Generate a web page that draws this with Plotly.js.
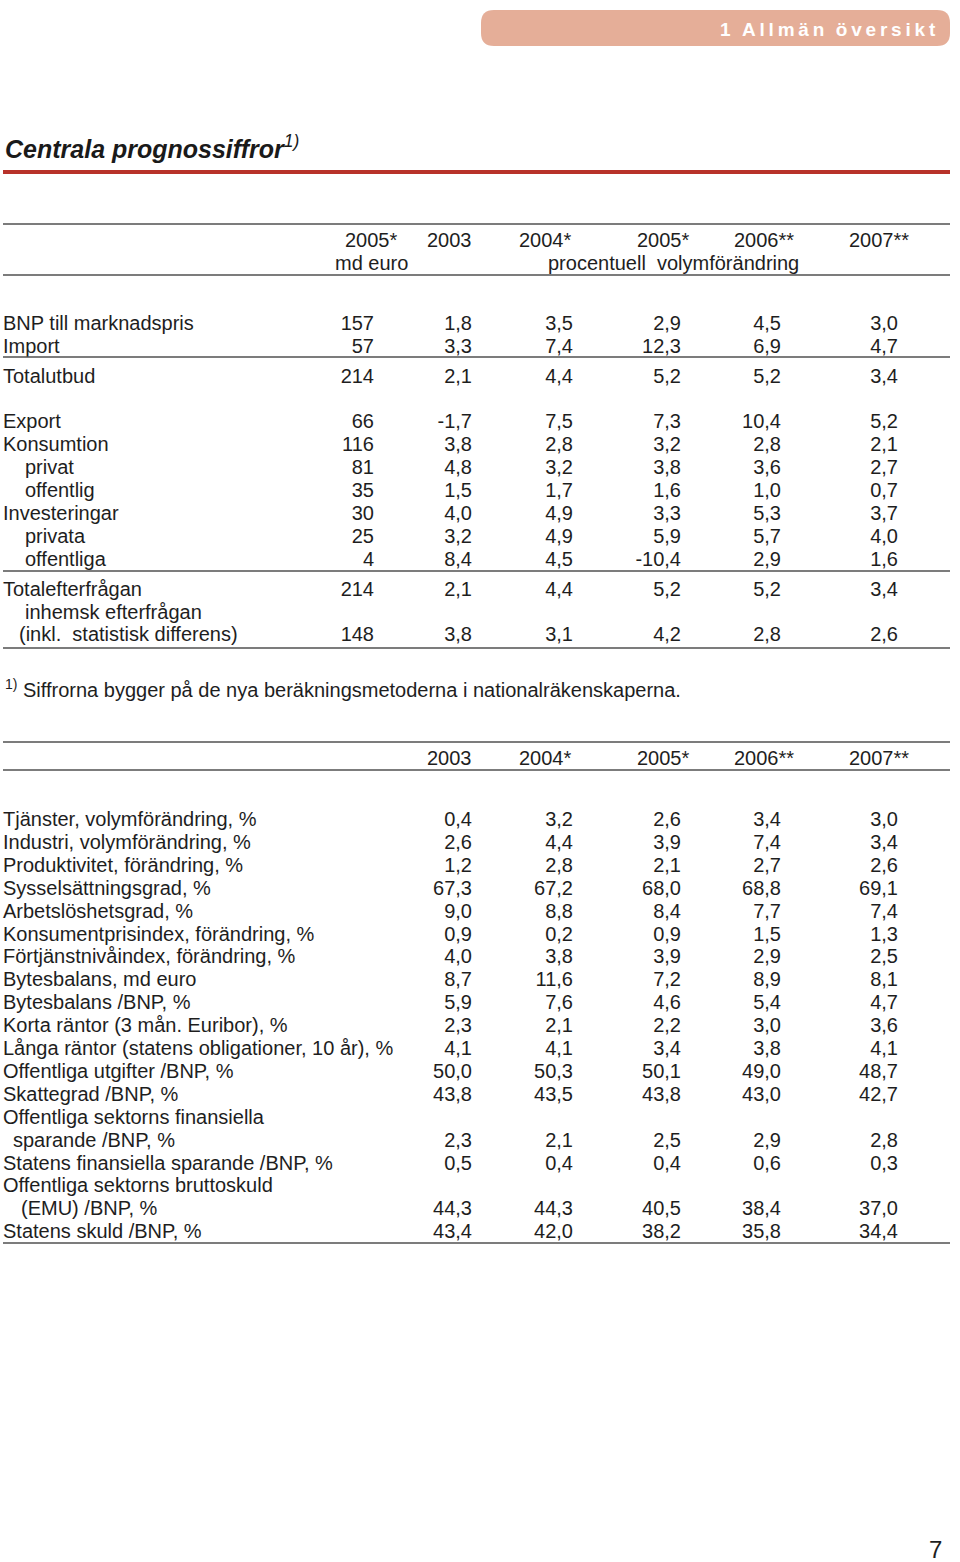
<!DOCTYPE html>
<html><head><meta charset="utf-8">
<script src="https://cdn.plot.ly/plotly-3.0.1.min.js"></script>
<style>html,body{margin:0;padding:0;background:#fff}</style>
</head><body><div id="chart" style="width:960px;height:1562px"></div>
<script>
// ---------- DATA ----------
const t1Headers = ["2005*","2003","2004*","2005*","2006**","2007**"];
const t1Labels = ["BNP till marknadspris","Import","Totalutbud","Export","Konsumtion","privat","offentlig",
  "Investeringar","privata","offentliga","Totalefterfrågan","inhemsk efterfrågan","(inkl.  statistisk differens)"];
const t1MdEuro = [157,57,214,66,116,81,35,30,25,4,214,null,148];
const t1Y2003  = [1.8,3.3,2.1,-1.7,3.8,4.8,1.5,4.0,3.2,8.4,2.1,null,3.8];
const t1Y2004  = [3.5,7.4,4.4,7.5,2.8,3.2,1.7,4.9,4.9,4.5,4.4,null,3.1];
const t1Y2005  = [2.9,12.3,5.2,7.3,3.2,3.8,1.6,3.3,5.9,-10.4,5.2,null,4.2];
const t1Y2006  = [4.5,6.9,5.2,10.4,2.8,3.6,1.0,5.3,5.7,2.9,5.2,null,2.8];
const t1Y2007  = [3.0,4.7,3.4,5.2,2.1,2.7,0.7,3.7,4.0,1.6,3.4,null,2.6];

const t2Headers = ["2003","2004*","2005*","2006**","2007**"];
const t2Labels = ["Tjänster, volymförändring, %","Industri, volymförändring, %","Produktivitet, förändring, %",
  "Sysselsättningsgrad, %","Arbetslöshetsgrad, %","Konsumentprisindex, förändring, %",
  "Förtjänstnivåindex, förändring, %","Bytesbalans, md euro","Bytesbalans /BNP, %",
  "Korta räntor (3 mån. Euribor), %","Långa räntor (statens obligationer, 10 år), %",
  "Offentliga utgifter /BNP, %","Skattegrad /BNP, %","Offentliga sektorns finansiella","sparande /BNP, %",
  "Statens finansiella sparande /BNP, %","Offentliga sektorns bruttoskuld","(EMU) /BNP, %","Statens skuld /BNP, %"];
const t2Y2003 = [0.4,2.6,1.2,67.3,9.0,0.9,4.0,8.7,5.9,2.3,4.1,50.0,43.8,null,2.3,0.5,null,44.3,43.4];
const t2Y2004 = [3.2,4.4,2.8,67.2,8.8,0.2,3.8,11.6,7.6,2.1,4.1,50.3,43.5,null,2.1,0.4,null,44.3,42.0];
const t2Y2005 = [2.6,3.9,2.1,68.0,8.4,0.9,3.9,7.2,4.6,2.2,3.4,50.1,43.8,null,2.5,0.4,null,40.5,38.2];
const t2Y2006 = [3.4,7.4,2.7,68.8,7.7,1.5,2.9,8.9,5.4,3.0,3.8,49.0,43.0,null,2.9,0.6,null,38.4,35.8];
const t2Y2007 = [3.0,3.4,2.6,69.1,7.4,1.3,2.5,8.1,4.7,3.6,4.1,48.7,42.7,null,2.8,0.3,null,37.0,34.4];

// ---------- LAYOUT CONFIG ----------
const FONT = "Liberation Sans, Arial, Helvetica, sans-serif";
const FS = 20, TXT = "#1e1e1e", RULE = "#505050";
const step = 22.9;
const t1Indent = [0,0,0,0,0,22,22,0,22,22,0,22,16];
const t1ExtraBefore = {2:0.3, 3:1.0, 10:0.3};
const t2Indent = [0,0,0,0,0,0,0,0,0,0,0,0,0,0,10,0,0,18,0];
const colRight1 = [374,472,573,681,781,898];
const colCenter1 = [371,449,545,663,764,879];
const colRight2 = colRight1.slice(1), colCenter2 = colCenter1.slice(1);

function rowsY(n, top, extra){ const out=[]; let s=0; for(let i=0;i<n;i++){ if(extra && extra[i]) s+=extra[i]; out.push(top+step*s); s+=1;} return out; }
const fmt1 = v => v.toFixed(1).replace(".", ",");
const fmt0 = v => String(v);

const t1Y = rowsY(t1Labels.length, 325, t1ExtraBefore);
const t2Y = rowsY(t2Labels.length, 821, null);

const traces = [];
function textTrace(xs, ys, texts, pos){
  traces.push({type:"scatter", mode:"text", x:xs, y:ys, text:texts, textposition:pos,
    textfont:{family:FONT,size:FS,color:TXT}, hoverinfo:"skip", cliponaxis:false, showlegend:false});
}
function valueTrace(arr, xRight, ys, f){
  const idx = arr.map((v,i)=>v==null?-1:i).filter(i=>i>=0);
  textTrace(idx.map(()=>xRight), idx.map(i=>ys[i]), idx.map(i=>f(arr[i])), "middle left");
}
textTrace(t1Labels.map((_,i)=>3+t1Indent[i]), t1Y, t1Labels, "middle right");
[t1MdEuro,t1Y2003,t1Y2004,t1Y2005,t1Y2006,t1Y2007].forEach((arr,c)=>valueTrace(arr, colRight1[c], t1Y, c===0?fmt0:fmt1));
textTrace(t2Labels.map((_,i)=>3+t2Indent[i]), t2Y, t2Labels, "middle right");
[t2Y2003,t2Y2004,t2Y2005,t2Y2006,t2Y2007].forEach((arr,c)=>valueTrace(arr, colRight2[c], t2Y, fmt1));

const ann = [];
function A(x,y,text,opts){ ann.push(Object.assign({xref:"x",yref:"y",x:x,y:y,text:text,showarrow:false,
  xanchor:"center",yanchor:"middle",font:{family:FONT,size:FS,color:TXT}},opts||{})); }
t1Headers.forEach((h,i)=>A(colCenter1[i],240,h));
A(colCenter1[0],263,"md euro");
A(673,263,"procentuell  volymförändring");
t2Headers.forEach((h,i)=>A(colCenter2[i],758,h));
A(3,147,"<b><i>Centrala prognossiffror</i></b><i><sup>1)</sup></i>",{xanchor:"left",font:{family:FONT,size:25,color:"#1a1a1a"}});
A(3,688,"<sup>1)</sup> Siffrorna bygger på de nya beräkningsmetoderna i nationalräkenskaperna.",{xanchor:"left"});
A(938,29,"<b>1\u2009\u2009\u2009A\u2009l\u2009l\u2009m\u2009ä\u2009n\u2009\u2009\u2009ö\u2009v\u2009e\u2009r\u2009s\u2009i\u2009k\u2009t</b>",{xanchor:"right",font:{family:FONT,size:19,color:"#ffffff"}});
A(944,1549,"7",{xanchor:"right",font:{family:FONT,size:24,color:TXT}});

const shapes = [];
function hline(y,w,c){ shapes.push({type:"line",xref:"x",yref:"y",x0:3,x1:950,y0:y,y1:y,line:{color:c||RULE,width:w||1.6}}); }
hline(172,4,"#b8322a");
[224,275,357,571,648,742,770,1243].forEach(y=>hline(y));
const r=13, bx0=481, bx1=950, by0=10, by1=46;
shapes.push({type:"path",xref:"x",yref:"y",fillcolor:"#e5ae98",line:{width:0},
  path:`M${bx0+r},${by0} L${bx1-r},${by0} Q${bx1},${by0} ${bx1},${by0+r} L${bx1},${by1-r} Q${bx1},${by1} ${bx1-r},${by1} L${bx0+r},${by1} Q${bx0},${by1} ${bx0},${by1-r} L${bx0},${by0+r} Q${bx0},${by0} ${bx0+r},${by0} Z`});

const layout = {width:960,height:1562,margin:{l:0,r:0,t:0,b:0},paper_bgcolor:"#fff",plot_bgcolor:"#fff",
  showlegend:false,
  xaxis:{range:[0,960],visible:false,fixedrange:true},
  yaxis:{range:[1562,0],autorange:false,visible:false,fixedrange:true},
  shapes:shapes, annotations:ann};
Plotly.newPlot("chart",traces,layout,{staticPlot:true,displayModeBar:false});
</script></body></html>
